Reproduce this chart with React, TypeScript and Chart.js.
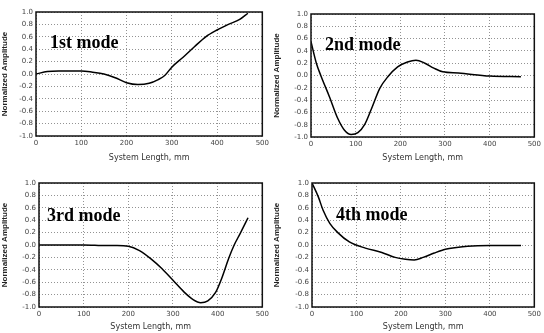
import React, { useEffect, useRef } from "react";
import { Chart, registerables } from "chart.js";

Chart.register(...registerables);

// ---- data ----
const mode1X = [0, 25, 50, 75, 100, 125, 150, 175, 200, 225, 250, 270, 285, 300, 325, 350, 375, 400, 425, 450, 468];
const mode1Y = [0, 0.04, 0.05, 0.05, 0.05, 0.03, 0.0, -0.06, -0.14, -0.17, -0.15, -0.09, -0.02, 0.11, 0.27, 0.44, 0.6, 0.71, 0.8, 0.88, 0.98];

const mode2X = [0, 12, 23, 41, 60, 75, 90, 105, 120, 135, 154, 172, 194, 216, 235, 255, 275, 295, 330, 400, 470];
const mode2Y = [0.55, 0.2, -0.02, -0.34, -0.7, -0.89, -0.96, -0.93, -0.8, -0.55, -0.21, -0.02, 0.14, 0.22, 0.25, 0.2, 0.12, 0.06, 0.04, -0.01, -0.02];

const mode3X = [0, 50, 100, 150, 175, 200, 225, 250, 275, 300, 325, 345, 362, 378, 395, 410, 425, 437, 450, 468];
const mode3Y = [0, 0, 0, -0.01, -0.01, -0.02, -0.09, -0.22, -0.38, -0.57, -0.76, -0.88, -0.93, -0.9, -0.77, -0.52, -0.21, 0.0, 0.18, 0.44];

const mode4X = [0, 14, 25, 40, 58, 84, 120, 157, 187, 210, 230, 250, 275, 300, 325, 350, 400, 470];
const mode4Y = [1.0, 0.78, 0.56, 0.35, 0.2, 0.05, -0.05, -0.12, -0.2, -0.23, -0.24, -0.2, -0.13, -0.07, -0.04, -0.02, -0.01, -0.01];

const modeLabels = ["1st mode", "2nd mode", "3rd mode", "4th mode"];
const xTitle = "System Length, mm";
const yTitle = "Normalized Amplitude";
const xMin = 0, xMax = 500, xStep = 100;
const yMin = -1, yMax = 1, yStep = 0.2;

type Panel = {
  xs: number[]; ys: number[]; label: string;
  box: { l: number; t: number; w: number; h: number };
  area: { l: number; t: number; r: number; b: number };
  labelPos: [number, number];
};

const panels: Panel[] = [
  { xs: mode1X, ys: mode1Y, label: modeLabels[0], box: { l: 0, t: 0, w: 272, h: 163 }, area: { l: 36, t: 12, r: 268, b: 136 }, labelPos: [50, 48] },
  { xs: mode2X, ys: mode2Y, label: modeLabels[1], box: { l: 272, t: 0, w: 272, h: 163 }, area: { l: 311, t: 14, r: 540, b: 137 }, labelPos: [53, 50] },
  { xs: mode3X, ys: mode3Y, label: modeLabels[2], box: { l: 0, t: 166, w: 272, h: 166 }, area: { l: 39, t: 183, r: 268, b: 307 }, labelPos: [47, 55] },
  { xs: mode4X, ys: mode4Y, label: modeLabels[3], box: { l: 272, t: 166, w: 272, h: 166 }, area: { l: 312, t: 183, r: 539, b: 307 }, labelPos: [64, 54] },
];

function PanelChart({ p }: { p: Panel }) {
  const ref = useRef<HTMLCanvasElement>(null);
  useEffect(() => {
    const canvas = ref.current!;
    const yW = p.area.l - p.box.l;
    const xH = p.box.t + p.box.h - p.area.b;
    const padTop = p.area.t - p.box.t;
    const padRight = p.box.l + p.box.w - p.area.r;
    const frame = {
      id: "frame",
      afterDraw(chart: any) {
        const { ctx, chartArea: a } = chart;
        ctx.save();
        ctx.strokeStyle = "#111";
        ctx.lineWidth = 1.5;
        ctx.strokeRect(a.left, a.top, a.right - a.left, a.bottom - a.top);
        ctx.font = 'bold 18px "Liberation Serif", "Times New Roman", serif';
        ctx.fillStyle = "#000";
        ctx.textBaseline = "alphabetic";
        ctx.fillText(p.label, p.labelPos[0], p.labelPos[1]);
        ctx.restore();
      },
    };
    const chart = new Chart(canvas, {
      type: "line",
      data: {
        datasets: [
          {
            data: p.xs.map((x, i) => ({ x, y: p.ys[i] })),
            borderColor: "#000",
            borderWidth: 1.5,
            pointRadius: 0,
            cubicInterpolationMode: "monotone",
            fill: false,
          },
        ],
      },
      options: {
        responsive: false,
        animation: false,
        devicePixelRatio: 1,
        layout: { padding: { top: padTop, right: padRight, left: 0, bottom: 0 } },
        plugins: { legend: { display: false }, tooltip: { enabled: false } },
        scales: {
          x: {
            type: "linear",
            min: xMin, max: xMax,
            afterFit: (s: any) => { s.height = xH; },
            ticks: { stepSize: xStep, color: "#444", font: { size: 7, family: "DejaVu Sans" }, padding: 3, maxRotation: 0 },
            grid: { color: "#777", drawTicks: false, lineWidth: 0.8 },
            border: { display: false, dash: [1, 2] },
            title: { display: true, text: xTitle, color: "#333", font: { size: 8, family: "DejaVu Sans" }, padding: { top: 1, bottom: 0 } },
          },
          y: {
            type: "linear",
            min: yMin, max: yMax,
            afterFit: (s: any) => { s.width = yW; },
            ticks: {
              stepSize: yStep, color: "#444", font: { size: 7, family: "DejaVu Sans" }, padding: 3,
              callback: (v: any) => Number(v).toFixed(1),
            },
            grid: { color: "#777", drawTicks: false, lineWidth: 0.8 },
            border: { display: false, dash: [1, 2] },
            title: { display: true, text: yTitle, color: "#222", font: { size: 8, weight: "bold", family: '"Liberation Sans Narrow", "Liberation Sans", sans-serif' }, padding: 0 },
          },
        },
      } as any,
      plugins: [frame],
    });
    return () => chart.destroy();
  }, [p]);
  return (
    <canvas
      ref={ref}
      width={p.box.w}
      height={p.box.h}
      style={{ position: "absolute", left: p.box.l, top: p.box.t, width: p.box.w, height: p.box.h }}
    />
  );
}

export default function App() {
  return (
    <div style={{ position: "fixed", left: 0, top: 0, width: 544, height: 333, background: "#fff", overflow: "hidden" }}>
      {panels.map((p, i) => (
        <PanelChart key={i} p={p} />
      ))}
    </div>
  );
}
